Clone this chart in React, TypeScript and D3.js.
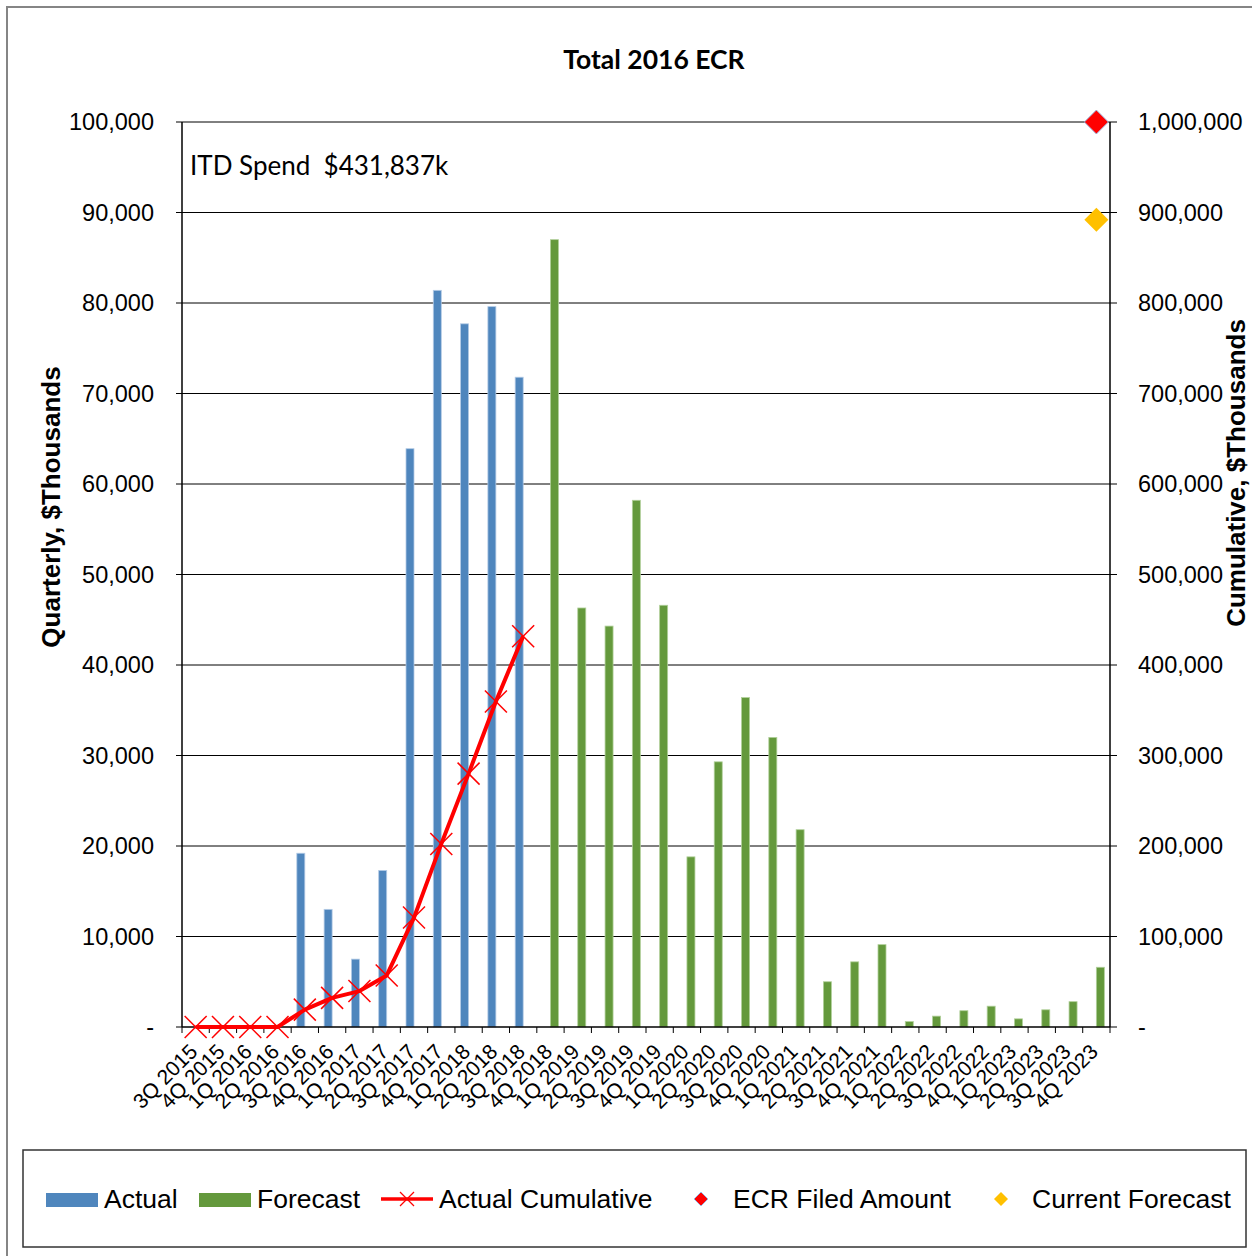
import React from "react";
import * as d3 from "d3";

const categories = [
  "3Q 2015", "4Q 2015",
  "1Q 2016", "2Q 2016", "3Q 2016", "4Q 2016",
  "1Q 2017", "2Q 2017", "3Q 2017", "4Q 2017",
  "1Q 2018", "2Q 2018", "3Q 2018", "4Q 2018",
  "1Q 2019", "2Q 2019", "3Q 2019", "4Q 2019",
  "1Q 2020", "2Q 2020", "3Q 2020", "4Q 2020",
  "1Q 2021", "2Q 2021", "3Q 2021", "4Q 2021",
  "1Q 2022", "2Q 2022", "3Q 2022", "4Q 2022",
  "1Q 2023", "2Q 2023", "3Q 2023", "4Q 2023",
];

// Quarterly actual spend ($K), categories 3Q 2015 .. 3Q 2018
const actualCats = categories.slice(0, 13);
const actualValues = [0, 0, 0, 0, 19200, 13000, 7500, 17300, 63900, 81400, 77700, 79600, 71800];

// Quarterly forecast ($K), categories 4Q 2018 .. 4Q 2023
const forecastCats = categories.slice(13);
const forecastValues = [
  87000, 46300, 44300, 58200, 46600, 18800, 29300, 36400, 32000, 21800,
  5000, 7200, 9100, 600, 1200, 1800, 2300, 900, 1900, 2800, 6600,
];

// Actual cumulative ($K)
const cumulativeValues = [0, 0, 0, 0, 19200, 32200, 39700, 57000, 120900, 202300, 280000, 359600, 431837];

const ecrFiledCat = "4Q 2023";
const ecrFiledValue = 1000000;
const currentForecastCat = "4Q 2023";
const currentForecastValue = 892000;

const leftTicks = [0, 10000, 20000, 30000, 40000, 50000, 60000, 70000, 80000, 90000, 100000];
const rightTicks = [0, 100000, 200000, 300000, 400000, 500000, 600000, 700000, 800000, 900000, 1000000];

const legendItems = ["Actual", "Forecast", "Actual Cumulative", "ECR Filed Amount", "Current Forecast"];

const BLUE = "#4F86BD";
const BLUE_EDGE = "#B4CBE6";
const GREEN = "#64993C";
const GREEN_EDGE = "#B1D09A";
const RED = "#FF0000";
const YELLOW = "#FFC000";
const ARIAL = "'Liberation Sans', Arial, sans-serif";
const CAL = "Lato, 'Open Sans', sans-serif";

const X0 = 182, X1 = 1110, Y0 = 1027, Y1 = 122;

function XMark({ x, y, r, w }: { x: number; y: number; r: number; w: number }) {
  return (
    <g stroke={RED} strokeWidth={w}>
      <line x1={x - r} y1={y - r} x2={x + r} y2={y + r} />
      <line x1={x - r} y1={y + r} x2={x + r} y2={y - r} />
    </g>
  );
}

function Diamond({ x, y, r, fill, stroke }: { x: number; y: number; r: number; fill: string; stroke?: string }) {
  const p = `M${x},${y - r}L${x + r},${y}L${x},${y + r}L${x - r},${y}Z`;
  return <path d={p} fill={fill} stroke={stroke || "none"} strokeWidth={stroke ? 1 : 0} />;
}

export default function App() {
  const x = d3.scaleBand<string>().domain(categories).range([X0, X1]).padding(0);
  const yL = d3.scaleLinear().domain([0, 100000]).range([Y0, Y1]);
  const yR = d3.scaleLinear().domain([0, 1000000]).range([Y0, Y1]);
  const bw = x.bandwidth();
  const cx = (c: string) => (x(c) as number) + bw / 2;
  const fmt = d3.format(",");
  const barW = 8;

  const line = d3
    .line<number>()
    .x((_, i) => cx(actualCats[i]))
    .y((d) => yR(d));

  const bounds = categories.map((c) => x(c) as number).concat([X1]);

  return (
    <svg
      width={1252}
      height={1256}
      style={{ position: "absolute", left: 0, top: 0, display: "block", background: "#fff" }}
    >
      <rect x={0} y={0} width={1252} height={1256} fill="#fff" />
      <rect x={7} y={7} width={1300} height={1300} fill="none" stroke="#858585" strokeWidth={2} />

      {/* Title */}
      <text x={654} y={69} textAnchor="middle" fontFamily={CAL} fontWeight="bold" fontSize={26.5}>
        Total 2016 ECR
      </text>

      {/* Gridlines */}
      {leftTicks.slice(1).map((t) => (
        <line key={t} x1={X0} x2={X1} y1={yL(t)} y2={yL(t)} stroke="#000" strokeWidth={1} />
      ))}

      {/* Actual bars */}
      {actualValues.map((v, i) =>
        v > 0 ? (
          <rect
            key={"a" + i}
            x={cx(actualCats[i]) - barW}
            y={yL(v)}
            width={barW}
            height={Y0 - yL(v)}
            fill={BLUE}
            stroke={BLUE_EDGE}
            strokeWidth={0.8}
          />
        ) : null
      )}

      {/* Forecast bars */}
      {forecastValues.map((v, i) => (
        <rect
          key={"f" + i}
          x={cx(forecastCats[i])}
          y={yL(v)}
          width={barW}
          height={Y0 - yL(v)}
          fill={GREEN}
          stroke={GREEN_EDGE}
          strokeWidth={0.8}
        />
      ))}

      {/* Axes */}
      <line x1={X0} x2={X0} y1={Y1} y2={Y0} stroke="#000" strokeWidth={1.5} />
      <line x1={X1} x2={X1} y1={Y1} y2={Y0} stroke="#000" strokeWidth={1.5} />
      <line x1={X0} x2={X1} y1={Y0} y2={Y0} stroke="#000" strokeWidth={1.5} />
      {leftTicks.map((t) => (
        <g key={"lt" + t}>
          <line x1={X0 - 6} x2={X0} y1={yL(t)} y2={yL(t)} stroke="#000" strokeWidth={1} />
          <text x={154} y={yL(t) + 8} textAnchor="end" fontFamily={ARIAL} fontSize={23.5}>
            {t === 0 ? "-" : fmt(t)}
          </text>
        </g>
      ))}
      {rightTicks.map((t) => (
        <g key={"rt" + t}>
          <line x1={X1} x2={X1 + 7} y1={yR(t)} y2={yR(t)} stroke="#000" strokeWidth={1} />
          <text x={1138} y={yR(t) + 8} textAnchor="start" fontFamily={ARIAL} fontSize={23.5}>
            {t === 0 ? "-" : fmt(t)}
          </text>
        </g>
      ))}
      {bounds.map((b, i) => (
        <line key={"xt" + i} x1={b} x2={b} y1={Y0} y2={Y0 + 6} stroke="#000" strokeWidth={1} />
      ))}
      {categories.map((c) => (
        <text
          key={"xl" + c}
          transform={`translate(${cx(c) + 3},${Y0 + 26}) rotate(-45)`}
          textAnchor="end"
          fontFamily={ARIAL}
          fontSize={21}
        >
          {c}
        </text>
      ))}

      {/* Axis titles */}
      <text
        transform={`translate(60,507) rotate(-90)`}
        textAnchor="middle"
        fontFamily={ARIAL}
        fontWeight="bold"
        fontSize={26}
      >
        Quarterly, $Thousands
      </text>
      <text
        transform={`translate(1245,473) rotate(-90)`}
        textAnchor="middle"
        fontFamily={ARIAL}
        fontWeight="bold"
        fontSize={26}
      >
        Cumulative, $Thousands
      </text>

      {/* Cumulative line */}
      <path d={line(cumulativeValues) || ""} fill="none" stroke={RED} strokeWidth={4} strokeLinejoin="round" />
      {cumulativeValues.map((v, i) => (
        <XMark key={"m" + i} x={cx(actualCats[i])} y={yR(v)} r={11} w={1.5} />
      ))}

      {/* Point markers */}
      <Diamond x={cx(ecrFiledCat)} y={yR(ecrFiledValue)} r={12} fill={RED} stroke="#9DB9E0" />
      <Diamond x={cx(currentForecastCat)} y={yR(currentForecastValue)} r={12} fill={YELLOW} />

      {/* ITD text */}
      <text x={190} y={175} fontFamily={CAL} fontSize={26} xmlSpace="preserve">
        ITD Spend  $431,837k
      </text>

      {/* Legend */}
      <rect x={23} y={1150} width={1223} height={97} fill="#fff" stroke="#333" strokeWidth={1.5} />
      <rect x={46} y={1193} width={52} height={14} fill={BLUE} />
      <text x={104} y={1208} fontFamily={ARIAL} fontSize={26.5}>{legendItems[0]}</text>
      <rect x={199} y={1193} width={52} height={14} fill={GREEN} />
      <text x={257} y={1208} fontFamily={ARIAL} fontSize={26.5}>{legendItems[1]}</text>
      <line x1={381} x2={433} y1={1199} y2={1199} stroke={RED} strokeWidth={3.5} />
      <XMark x={407} y={1199} r={7} w={1.2} />
      <text x={439} y={1208} fontFamily={ARIAL} fontSize={26.5}>{legendItems[2]}</text>
      <Diamond x={701} y={1199} r={7} fill={RED} stroke="#9DB9E0" />
      <text x={733} y={1208} fontFamily={ARIAL} fontSize={26.5}>{legendItems[3]}</text>
      <Diamond x={1001} y={1199} r={7} fill={YELLOW} />
      <text x={1032} y={1208} fontFamily={ARIAL} fontSize={26.5}>{legendItems[4]}</text>
    </svg>
  );
}
